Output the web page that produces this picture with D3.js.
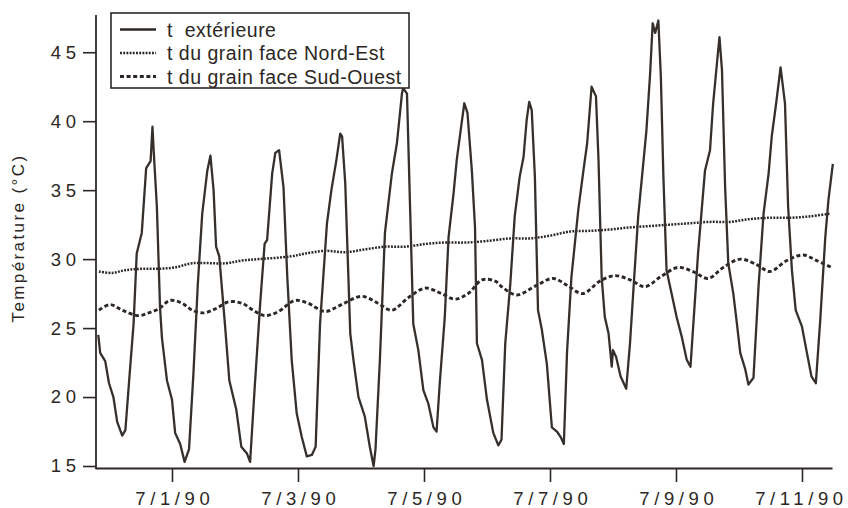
<!DOCTYPE html>
<html>
<head>
<meta charset="utf-8">
<script src="https://cdn.jsdelivr.net/npm/d3@7/dist/d3.min.js"></script>
<style>
  body { margin: 0; background: #fff; }
  svg { display: block; }
  text { font-family: "Liberation Sans", Arial, Helvetica, sans-serif; fill: #2c2724; }
</style>
</head>
<body>
<svg id="chart" width="848" height="508"></svg>
<script>
// Time is given in days from 1 July 1990, 00:00; temperatures in °C.
const tExterieure = [
  [-1.17,24.5],[-1.14,23.2],[-1.06,22.6],[-1.00,21.0],[-0.93,20.0],[-0.87,18.2],[-0.79,17.2],[-0.74,17.6],
  [-0.68,21.2],[-0.61,25.3],[-0.56,30.4],[-0.48,31.9],[-0.41,36.6],[-0.34,37.1],[-0.31,39.6],[-0.29,37.8],
  [-0.24,33.8],[-0.19,26.5],[-0.16,24.3],[-0.08,21.2],[0.00,19.8],[0.05,17.4],[0.13,16.6],[0.20,15.3],
  [0.27,16.2],[0.34,21.7],[0.41,28.2],[0.48,33.3],[0.56,36.4],[0.61,37.5],[0.66,35.0],[0.70,30.9],
  [0.75,30.2],[0.84,25.3],[0.91,21.2],[1.02,19.1],[1.10,16.4],[1.19,15.9],[1.24,15.3],[1.31,20.5],
  [1.40,26.8],[1.47,31.1],[1.51,31.4],[1.59,36.2],[1.64,37.7],[1.70,37.9],[1.77,35.2],[1.83,28.7],
  [1.90,22.7],[1.98,18.8],[2.06,17.1],[2.14,15.7],[2.22,15.8],[2.28,16.4],[2.35,25.3],[2.46,32.6],
  [2.53,35.0],[2.61,37.2],[2.67,39.1],[2.70,38.9],[2.75,35.5],[2.83,24.6],[2.88,22.7],[2.96,20.0],
  [3.06,18.6],[3.14,16.4],[3.20,15.0],[3.23,16.2],[3.30,22.7],[3.38,31.9],[3.49,36.2],[3.57,38.4],
  [3.65,42.0],[3.67,42.4],[3.73,42.0],[3.78,33.6],[3.83,25.3],[3.91,23.4],[3.99,20.5],[4.07,19.5],
  [4.15,17.8],[4.20,17.5],[4.25,21.0],[4.33,25.8],[4.39,31.6],[4.47,34.8],[4.52,37.2],[4.59,39.6],
  [4.64,41.3],[4.69,40.6],[4.76,36.4],[4.81,32.3],[4.84,23.9],[4.92,22.7],[5.00,19.8],[5.10,17.4],
  [5.18,16.5],[5.23,16.9],[5.29,23.9],[5.37,28.2],[5.44,33.1],[5.52,36.0],[5.58,37.4],[5.63,40.1],
  [5.67,41.4],[5.71,40.8],[5.76,36.0],[5.81,26.3],[5.87,24.9],[5.95,22.4],[6.03,17.8],[6.11,17.5],
  [6.17,17.1],[6.22,16.6],[6.27,23.2],[6.34,28.7],[6.45,33.6],[6.53,36.4],[6.59,38.4],[6.66,42.5],
  [6.73,41.8],[6.77,37.2],[6.82,28.7],[6.87,25.8],[6.93,24.6],[6.98,22.2],[7.00,23.4],[7.05,22.9],
  [7.12,21.5],[7.21,20.6],[7.27,23.9],[7.33,28.2],[7.40,33.1],[7.48,36.9],[7.53,39.3],[7.59,43.5],
  [7.63,47.1],[7.67,46.4],[7.72,47.3],[7.76,43.2],[7.80,36.0],[7.85,29.2],[7.93,27.5],[8.01,25.8],
  [8.09,24.4],[8.17,22.7],[8.23,22.2],[8.28,25.6],[8.35,30.4],[8.46,36.4],[8.54,37.9],[8.59,41.3],
  [8.65,44.2],[8.69,46.1],[8.73,43.7],[8.78,35.2],[8.83,29.7],[8.91,27.5],[8.96,25.6],[9.02,23.2],
  [9.10,22.0],[9.15,20.9],[9.23,21.4],[9.31,28.0],[9.39,33.3],[9.47,36.2],[9.52,38.9],[9.59,41.3],
  [9.66,43.9],[9.73,41.3],[9.78,33.8],[9.84,29.2],[9.90,26.3],[10.00,25.1],[10.07,23.4],[10.15,21.5],
  [10.22,21.0],[10.29,25.6],[10.37,31.6],[10.42,34.3],[10.49,36.9]
];

const tGrainNordEst = [
  [-1.16,29.1],[-0.95,29.0],[-0.74,29.2],[-0.48,29.3],[-0.21,29.3],[0.05,29.4],[0.32,29.7],[0.85,29.7],
  [1.11,29.9],[1.38,30.0],[1.89,30.2],[2.11,30.4],[2.43,30.6],[2.75,30.5],[3.06,30.7],[3.38,30.9],
  [3.70,30.9],[4.02,31.1],[4.33,31.2],[4.65,31.2],[4.97,31.3],[5.37,31.5],[5.68,31.5],[6.00,31.7],
  [6.32,32.0],[6.63,32.05],[6.95,32.15],[7.27,32.3],[7.59,32.4],[7.90,32.5],[8.22,32.6],[8.54,32.7],
  [8.86,32.7],[9.17,32.9],[9.49,33.0],[9.81,33.0],[10.13,33.1],[10.44,33.3]
];

const tGrainSudOuest = [
  [-1.16,26.3],[-0.98,26.7],[-0.79,26.3],[-0.53,25.9],[-0.37,26.1],[-0.21,26.4],[-0.03,27.0],[0.16,26.8],
  [0.32,26.3],[0.50,26.1],[0.69,26.4],[0.90,26.9],[1.11,26.8],[1.32,26.2],[1.48,25.9],[1.69,26.2],
  [1.95,27.0],[2.16,26.8],[2.43,26.2],[2.69,26.7],[3.01,27.3],[3.27,26.8],[3.49,26.3],[3.75,27.2],
  [4.02,27.9],[4.28,27.5],[4.49,27.1],[4.70,27.5],[4.92,28.5],[5.13,28.4],[5.26,27.9],[5.47,27.4],
  [5.79,28.1],[6.05,28.6],[6.27,28.1],[6.52,27.5],[6.79,28.4],[7.03,28.8],[7.27,28.5],[7.51,28.0],
  [7.75,28.7],[8.03,29.4],[8.27,29.1],[8.51,28.6],[8.75,29.4],[9.02,30.0],[9.28,29.6],[9.49,29.1],
  [9.76,29.9],[10.02,30.3],[10.23,29.9],[10.47,29.4]
];

const yTicks = [15, 20, 25, 30, 35, 40, 45];
const xTickDates = ["1990-07-01", "1990-07-03", "1990-07-05", "1990-07-07", "1990-07-09", "1990-07-11"];
const legendLabels = ["t  extérieure", "t du grain face Nord-Est", "t du grain face Sud-Ouest"];
const yTitle = "Température (°C)";

const ink = "#2c2724";
const origin = new Date(1990, 6, 1, 0, 0);
const toDate = d => new Date(origin.getTime() + d * 864e5);
const parseDay = d3.timeParse("%Y-%m-%d");
const fmt = d3.timeFormat("%-m/%-d/%y");

const svg = d3.select("#chart");

const x = d3.scaleTime()
  .domain([new Date(1990, 5, 29, 18, 40), new Date(1990, 6, 11, 11, 26)])
  .range([95, 832]);
const y = d3.scaleLinear().domain([15, 47.7]).range([466, 15]);

// Axes
const tickLs = 4.6;    // letter spacing of tick labels
const tickFont = 18.5;

const yAxis = svg.append("g")
  .attr("transform", "translate(96,0)")
  .call(d3.axisLeft(y).tickValues(yTicks).tickSize(13).tickSizeOuter(0).tickFormat(d => d));
yAxis.select(".domain").remove();
yAxis.selectAll(".tick line").attr("stroke", ink).attr("stroke-width", 1.6);
yAxis.selectAll(".tick text")
  .attr("x", -20 + tickLs)
  .attr("font-size", tickFont)
  .attr("letter-spacing", tickLs)
  .attr("fill", ink)
  .style("font-family", '"Liberation Sans", Arial, sans-serif');

svg.append("line")
  .attr("x1", 96).attr("x2", 96).attr("y1", 15).attr("y2", 469)
  .attr("stroke", ink).attr("stroke-width", 1.8);

const xAxis = svg.append("g")
  .attr("transform", "translate(0,468)")
  .call(d3.axisBottom(x).tickValues(xTickDates.map(parseDay)).tickSize(14).tickSizeOuter(0).tickFormat(fmt).tickPadding(10));
xAxis.select(".domain").attr("stroke", ink).attr("stroke-width", 2);
xAxis.selectAll(".tick line").attr("stroke", ink).attr("stroke-width", 1.6);
xAxis.selectAll(".tick text")
  .attr("dx", (d, i, n) => i === n.length - 1 ? -1 : tickLs / 2)
  .attr("font-size", tickFont)
  .attr("letter-spacing", tickLs)
  .attr("fill", ink)
  .style("font-family", '"Liberation Sans", Arial, sans-serif');

// Y axis title
svg.append("text")
  .attr("transform", "translate(24,238) rotate(-90)")
  .attr("text-anchor", "middle")
  .attr("font-size", 17)
  .attr("letter-spacing", 2.4)
  .attr("fill", ink)
  .text(yTitle);

// Series
const line = d3.line().x(d => x(toDate(d[0]))).y(d => y(d[1]));
const curved = d3.line().curve(d3.curveCatmullRom.alpha(0.5)).x(d => x(toDate(d[0]))).y(d => y(d[1]));

const styles = [
  { dash: null, width: 2.3 },
  { dash: "1.9,1.3", width: 2.5 },
  { dash: "4,2.6", width: 2.9 }
];

svg.append("path").datum(tGrainNordEst)
  .attr("d", curved).attr("fill", "none").attr("stroke", ink)
  .attr("stroke-width", styles[1].width).attr("stroke-dasharray", styles[1].dash);

svg.append("path").datum(tGrainSudOuest)
  .attr("d", curved).attr("fill", "none").attr("stroke", ink)
  .attr("stroke-width", styles[2].width).attr("stroke-dasharray", styles[2].dash);

svg.append("path").datum(tExterieure)
  .attr("d", line).attr("fill", "none").attr("stroke", "#35302c")
  .attr("stroke-width", styles[0].width).attr("stroke-linejoin", "round");

// Legend
const legend = svg.append("g");
legend.append("rect")
  .attr("x", 111).attr("y", 13).attr("width", 298).attr("height", 75)
  .attr("fill", "#fff").attr("stroke", ink).attr("stroke-width", 1.6);

const rowY = [29.5, 53, 76.5];
legendLabels.forEach((lab, i) => {
  legend.append("line")
    .attr("x1", 120).attr("x2", 156).attr("y1", rowY[i]).attr("y2", rowY[i])
    .attr("stroke", ink).attr("stroke-width", styles[i].width)
    .attr("stroke-dasharray", styles[i].dash);
  legend.append("text")
    .attr("x", 167).attr("y", rowY[i] + 7)
    .attr("font-size", 19.5)
    .attr("letter-spacing", 0.5)
    .attr("fill", ink)
    .style("white-space", "pre")
    .text(lab);
});
</script>
</body>
</html>
